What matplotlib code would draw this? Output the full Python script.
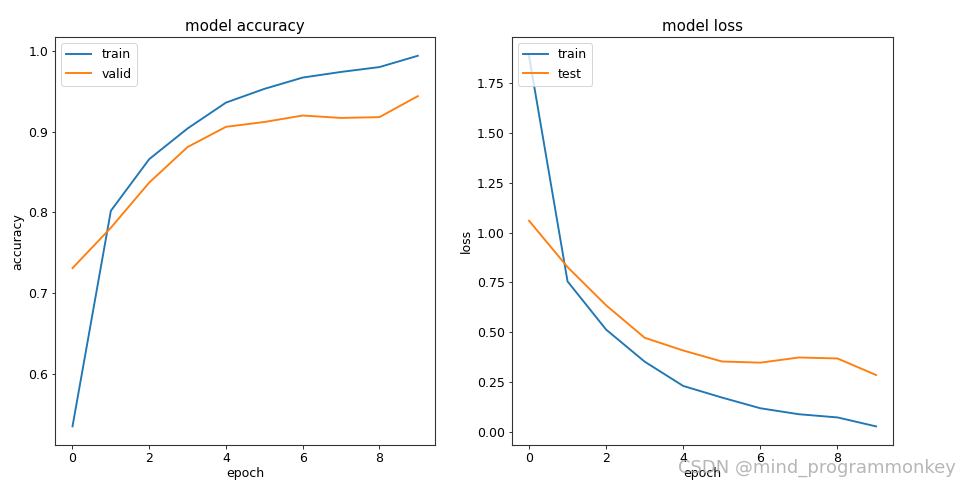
import matplotlib
matplotlib.use("Agg")
import matplotlib.pyplot as plt

epochs = list(range(10))
train_acc = [0.535, 0.802, 0.866, 0.904, 0.936, 0.953, 0.967, 0.974, 0.980, 0.994]
valid_acc = [0.731, 0.781, 0.837, 0.881, 0.906, 0.912, 0.920, 0.917, 0.918, 0.944]
train_loss = [1.888, 0.755, 0.513, 0.352, 0.230, 0.172, 0.118, 0.088, 0.072, 0.027]
test_loss = [1.060, 0.827, 0.635, 0.472, 0.408, 0.353, 0.347, 0.373, 0.368, 0.285]

plt.rcParams["font.size"] = 12.5
plt.rcParams["lines.linewidth"] = 1.9
plt.rcParams["axes.linewidth"] = 1.1
plt.rcParams["axes.edgecolor"] = "#333333"

DPI = 72
fig = plt.figure(figsize=(969 / DPI, 490 / DPI), dpi=DPI)

ax1 = fig.add_axes([0.057, 0.092, 0.392, 0.832])
ax1.plot(epochs, train_acc, label="train")
ax1.plot(epochs, valid_acc, label="valid")
ax1.set_title("model accuracy")
ax1.set_ylabel("accuracy")
ax1.set_xlabel("epoch", labelpad=2)
ax1.legend(loc="upper left")

ax2 = fig.add_axes([0.528, 0.092, 0.394, 0.832])
ax2.plot(epochs, train_loss, label="train")
ax2.plot(epochs, test_loss, label="test")
ax2.set_title("model loss")
ax2.set_ylabel("loss")
ax2.set_xlabel("epoch", labelpad=2)
ax2.legend(loc="upper left")

fig.text(0.986, 0.045, "CSDN @mind_programmonkey", ha="right", va="center",
         fontsize=18, color="#aaaaaa", alpha=0.85)

fig.savefig("out.png", dpi=DPI)
